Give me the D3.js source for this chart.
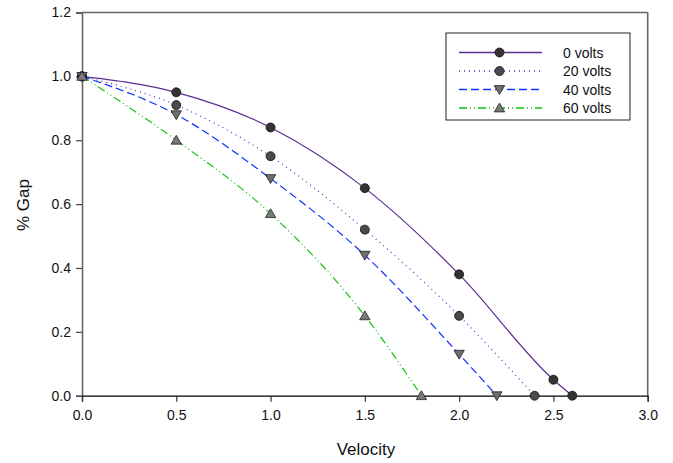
<!DOCTYPE html>
<html><head><meta charset="utf-8">
<script src="https://cdn.jsdelivr.net/npm/d3@7"></script>
<style>body{margin:0;background:#fff}svg{display:block}text{font-family:"Liberation Sans",Arial,sans-serif;fill:#111}</style>
</head><body><svg id="c" width="673" height="463"></svg>
<script>
const seriesNames = ["0 volts","20 volts","40 volts","60 volts"];
const x0v = [0,0.5,1.0,1.5,2.0,2.5,2.6];
const y0v = [1.0,0.95,0.84,0.65,0.38,0.05,0.0];
const x20v = [0,0.5,1.0,1.5,2.0,2.4];
const y20v = [1.0,0.91,0.75,0.52,0.25,0.0];
const x40v = [0,0.5,1.0,1.5,2.0,2.2];
const y40v = [1.0,0.88,0.68,0.44,0.13,0.0];
const x60v = [0,0.5,1.0,1.5,1.8];
const y60v = [1.0,0.80,0.57,0.25,0.0];
const xTicks = [0,0.5,1.0,1.5,2.0,2.5,3.0];
const yTicks = [0,0.2,0.4,0.6,0.8,1.0,1.2];

const styles = [
  {color:"#5c2d91", dash:null, shape:"circle", fill:"#333"},
  {color:"#3a3acc", dash:"1,4", shape:"circle", fill:"#4a4a4a"},
  {color:"#1030ff", dash:"8,4", shape:"down", fill:"#6e6e6e"},
  {color:"#10c010", dash:"8,3,1,3,1,3", shape:"up", fill:"#7a7a7a"}
];
const data = [[x0v,y0v],[x20v,y20v],[x40v,y40v],[x60v,y60v]].map(([xs,ys])=>xs.map((x,i)=>({x, y:ys[i]})));

const svg = d3.select("#c");
const L=82, R=647.7, T=12.5, B=395.7;
const x = d3.scaleLinear().domain([0,3]).range([L,R]);
const y = d3.scaleLinear().domain([0,1.2]).range([B,T]);

// frame (top/right) gray
svg.append("line").attr("x1",L).attr("x2",R).attr("y1",T).attr("y2",T).attr("stroke","#666").attr("stroke-width",1.6);
svg.append("line").attr("x1",R).attr("x2",R).attr("y1",T).attr("y2",B).attr("stroke","#666").attr("stroke-width",1.6);

// y axis
const ya = svg.append("g").attr("transform",`translate(${L},0)`)
  .call(d3.axisLeft(y).tickValues(yTicks).tickFormat(d3.format(".1f")).tickSizeOuter(0).tickSize(6).tickPadding(5));
ya.select(".domain").attr("stroke","#666").attr("stroke-width",1.6);
ya.selectAll(".tick line").attr("stroke","#444").attr("stroke-width",1.2);
ya.selectAll("text").style("font-size","14px").attr("fill","#111");

// x axis
const xa = svg.append("g").attr("transform",`translate(0,${B})`)
  .call(d3.axisBottom(x).tickValues(xTicks).tickFormat(d3.format(".1f")).tickSizeOuter(0).tickSize(6).tickPadding(8));
xa.select(".domain").attr("stroke","#000").attr("stroke-width",1.3);
xa.selectAll(".tick line").attr("stroke","#333").attr("stroke-width",1.2);
xa.selectAll("text").style("font-size","14px").attr("fill","#111");

svg.append("text").attr("x",366).attr("y",455).attr("text-anchor","middle").style("font-size","17px").text("Velocity");
svg.append("text").attr("transform","translate(29,205) rotate(-90)").attr("text-anchor","middle").style("font-size","17px").text("% Gap");

const line = d3.line().x(d=>x(d.x)).y(d=>y(d.y)).curve(d3.curveMonotoneX);
function marker(g, shape, fill, cx, cy){
  if(shape==="circle"){
    g.append("circle").attr("cx",cx).attr("cy",cy).attr("r",4.5).attr("fill",fill).attr("stroke","#111").attr("stroke-width",0.8);
  } else {
    const s = 5.2;
    const pts = shape==="down" ? [[cx-s,cy-s*0.75],[cx+s,cy-s*0.75],[cx,cy+s*0.95]] : [[cx-s,cy+s*0.75],[cx+s,cy+s*0.75],[cx,cy-s*0.95]];
    g.append("polygon").attr("points",pts.map(p=>p.join(",")).join(" ")).attr("fill",fill).attr("stroke","#222").attr("stroke-width",0.8);
  }
}
const plot = svg.append("g");
data.forEach((d,i)=>{
  const st = styles[i];
  plot.append("path").datum(d).attr("d",line).attr("fill","none").attr("stroke",st.color).attr("stroke-width",1.2)
    .attr("stroke-dasharray",st.dash);
});
data.forEach((d,i)=>{
  const st = styles[i];
  d.forEach(p=>marker(plot, st.shape, st.fill, x(p.x), y(p.y)));
});

// legend
const lg = svg.append("g");
lg.append("rect").attr("x",446).attr("y",33).attr("width",184).attr("height",87).attr("fill","#fff").attr("stroke","#222").attr("stroke-width",1);
seriesNames.forEach((n,i)=>{
  const st = styles[i];
  const ly = 52.5 + i*18.5;
  lg.append("line").attr("x1",459).attr("x2",542).attr("y1",ly).attr("y2",ly).attr("stroke",st.color).attr("stroke-width",1.4).attr("stroke-dasharray",st.dash);
  marker(lg, st.shape, st.fill, 499.5, ly);
  lg.append("text").attr("x",563).attr("y",ly+5).style("font-size","14px").text(n);
});
</script></body></html>
